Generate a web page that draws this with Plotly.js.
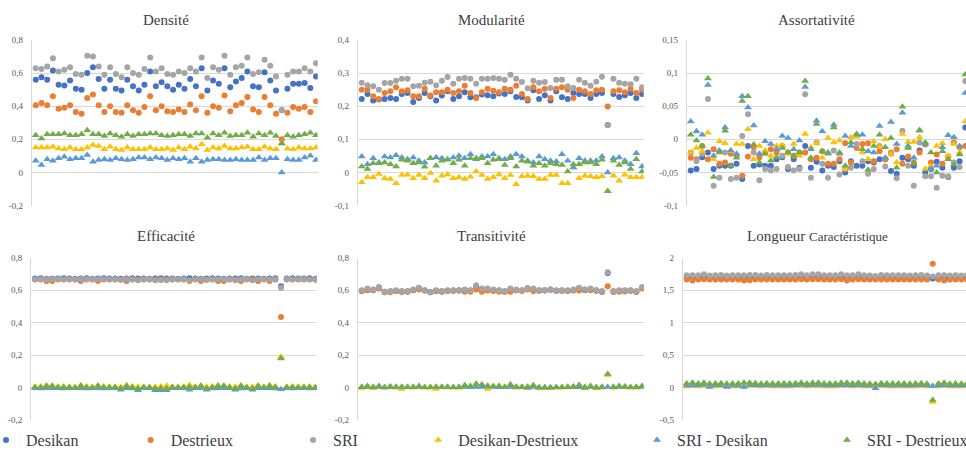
<!DOCTYPE html>
<html><head><meta charset="utf-8">
<script src="https://cdn.plot.ly/plotly-3.0.1.min.js"></script>
<style>html,body{margin:0;padding:0;background:#fff}#chart{width:966px;height:450px}</style>
</head><body><div id="chart"></div>
<script>
// subjects (categories)
const subjects = [1,2,3,4,5,6,7,8,9,10,11,12,13,14,15,16,17,18,19,20,21,22,23,24,25,26,27,28,29,30,31,32,33,34,35,36,37,38,39,40,41,42,43,44,45,46,47,48,49,50];

const seriesNames = ["Desikan","Destrieux","SRI","Desikan-Destrieux","SRI - Desikan","SRI - Destrieux"];
const seriesColors = ["#4472C4","#ED7D31","#A5A5A5","#FFC000","#5B9BD5","#70AD47"];
const seriesSymbols = ["circle","circle","circle","triangle-up","triangle-up","triangle-up"];

const panelTitles = ["Densité","Modularité","Assortativité","Efficacité","Transitivité","Longueur <span style='font-size:13px'>Caractéristique</span>"];

// tick labels
const ticksDensite = [0.8,0.6,0.4,0.2,0,-0.2];
const tickTextDensite = ["0,8","0,6","0,4","0,2","0","-0,2"];
const ticksModularite = [0.4,0.3,0.2,0.1,0,-0.1];
const tickTextModularite = ["0,4","0,3","0,2","0,1","0","-0,1"];
const ticksAssort = [0.15,0.1,0.05,0,-0.05,-0.1];
const tickTextAssort = ["0,15","0,1","0,05","0","-0,05","-0,1"];
const ticksLongueur = [2,1.5,1,0.5,0,-0.5];
const tickTextLongueur = ["2","1,5","1","0,5","0","-0,5"];

// Densité
const D_desikan = [0.56,0.575,0.56,0.615,0.53,0.525,0.555,0.505,0.50,0.60,0.635,0.565,0.505,0.56,0.505,0.495,0.56,0.52,0.495,0.53,0.61,0.52,0.545,0.52,0.50,0.53,0.505,0.565,0.52,0.63,0.495,0.555,0.535,0.63,0.515,0.55,0.57,0.61,0.52,0.515,0.605,0.555,0.495,0.375,0.505,0.535,0.535,0.54,0.51,0.58];
const D_destrieux = [0.405,0.42,0.405,0.46,0.385,0.39,0.405,0.365,0.355,0.45,0.47,0.405,0.365,0.40,0.365,0.36,0.405,0.375,0.36,0.395,0.46,0.375,0.40,0.37,0.365,0.38,0.365,0.41,0.375,0.46,0.36,0.40,0.39,0.465,0.37,0.405,0.42,0.455,0.38,0.365,0.455,0.405,0.355,0.20,0.36,0.395,0.385,0.395,0.365,0.43];
const D_sri = [0.63,0.625,0.64,0.69,0.61,0.62,0.635,0.595,0.59,0.705,0.70,0.64,0.59,0.635,0.595,0.575,0.635,0.60,0.59,0.625,0.695,0.61,0.63,0.595,0.59,0.61,0.60,0.63,0.61,0.695,0.57,0.635,0.62,0.705,0.59,0.635,0.645,0.695,0.595,0.605,0.68,0.645,0.58,0.375,0.59,0.61,0.61,0.63,0.61,0.66];
const D_desDes = [0.15,0.15,0.15,0.155,0.145,0.14,0.15,0.14,0.14,0.15,0.165,0.16,0.14,0.155,0.14,0.135,0.15,0.14,0.14,0.14,0.15,0.14,0.14,0.145,0.135,0.15,0.14,0.155,0.145,0.17,0.135,0.15,0.145,0.16,0.145,0.145,0.15,0.155,0.14,0.14,0.155,0.145,0.14,0.175,0.145,0.14,0.15,0.145,0.145,0.15];
const D_sriDes = [0.07,0.045,0.08,0.07,0.085,0.095,0.08,0.085,0.085,0.105,0.065,0.075,0.08,0.075,0.085,0.08,0.075,0.08,0.09,0.09,0.08,0.09,0.085,0.075,0.085,0.08,0.085,0.065,0.085,0.065,0.075,0.08,0.08,0.075,0.075,0.08,0.075,0.075,0.075,0.09,0.075,0.085,0.085,0.0,0.08,0.075,0.075,0.09,0.1,0.075];
const D_sriDst = [0.225,0.205,0.23,0.23,0.23,0.235,0.225,0.225,0.23,0.255,0.23,0.23,0.22,0.235,0.225,0.215,0.23,0.22,0.23,0.23,0.235,0.235,0.225,0.22,0.225,0.23,0.23,0.22,0.235,0.235,0.21,0.235,0.225,0.24,0.22,0.225,0.225,0.24,0.215,0.235,0.225,0.24,0.22,0.175,0.225,0.215,0.225,0.23,0.24,0.225];

// Modularité
const M_desikan = [0.222,0.237,0.217,0.22,0.222,0.225,0.222,0.237,0.24,0.213,0.225,0.24,0.23,0.217,0.232,0.245,0.222,0.23,0.242,0.227,0.227,0.235,0.233,0.23,0.238,0.237,0.245,0.228,0.227,0.217,0.248,0.222,0.233,0.217,0.245,0.227,0.222,0.24,0.237,0.237,0.225,0.237,0.24,0.143,0.237,0.228,0.233,0.24,0.225,0.237];
const M_destrieux = [0.25,0.25,0.23,0.222,0.24,0.245,0.257,0.245,0.248,0.23,0.23,0.253,0.232,0.242,0.242,0.25,0.24,0.245,0.262,0.24,0.225,0.242,0.253,0.247,0.242,0.253,0.25,0.262,0.237,0.222,0.257,0.245,0.253,0.225,0.253,0.257,0.25,0.225,0.25,0.245,0.237,0.248,0.25,0.199,0.245,0.248,0.242,0.253,0.24,0.25];
const M_sri = [0.271,0.263,0.26,0.25,0.27,0.27,0.277,0.283,0.283,0.26,0.262,0.271,0.274,0.263,0.277,0.288,0.268,0.283,0.285,0.283,0.268,0.283,0.283,0.285,0.283,0.28,0.295,0.283,0.273,0.254,0.277,0.271,0.273,0.255,0.28,0.28,0.26,0.255,0.28,0.271,0.262,0.274,0.289,0.143,0.283,0.271,0.268,0.266,0.283,0.257];
const M_desDes = [-0.03,-0.015,-0.015,-0.005,-0.018,-0.02,-0.033,-0.008,-0.007,-0.018,-0.008,-0.018,-0.002,-0.025,-0.01,-0.006,-0.018,-0.015,-0.02,-0.013,0.003,-0.008,-0.02,-0.015,-0.006,-0.018,-0.008,-0.036,-0.012,-0.01,-0.012,-0.02,-0.02,-0.008,-0.008,-0.033,-0.033,0.015,-0.018,-0.01,-0.012,-0.015,-0.012,-0.056,-0.01,-0.025,-0.007,-0.015,-0.015,-0.015];
const M_sriDes = [0.048,0.025,0.043,0.03,0.048,0.045,0.052,0.045,0.04,0.045,0.035,0.03,0.043,0.045,0.043,0.04,0.045,0.05,0.043,0.055,0.04,0.048,0.048,0.055,0.043,0.04,0.048,0.055,0.048,0.035,0.03,0.048,0.04,0.035,0.033,0.055,0.035,0.015,0.043,0.035,0.035,0.035,0.048,0.0,0.043,0.045,0.035,0.025,0.058,0.018];
const M_sriDst = [0.018,0.01,0.028,0.028,0.03,0.025,0.018,0.038,0.035,0.028,0.03,0.017,0.043,0.02,0.035,0.038,0.028,0.038,0.02,0.043,0.043,0.043,0.028,0.038,0.04,0.022,0.043,0.018,0.035,0.032,0.02,0.028,0.02,0.028,0.025,0.022,0.003,0.025,0.025,0.03,0.03,0.025,0.038,-0.057,0.035,0.022,0.03,0.01,0.04,0.003];

// Assortativité
const A_desikan = [-0.047,-0.045,-0.027,-0.02,-0.045,-0.04,-0.04,-0.04,-0.037,-0.06,-0.01,-0.04,-0.038,-0.04,-0.04,-0.03,-0.027,-0.045,-0.03,-0.043,-0.01,-0.043,-0.034,-0.047,-0.04,-0.042,-0.033,-0.05,-0.033,-0.04,-0.04,-0.033,-0.035,-0.03,-0.03,-0.048,-0.052,-0.028,-0.03,-0.04,-0.017,-0.05,-0.045,-0.034,-0.043,-0.057,-0.043,-0.033,0.018,-0.03];
const A_destrieux = [-0.028,-0.03,-0.01,-0.03,-0.015,-0.037,-0.035,-0.022,-0.025,-0.055,-0.026,-0.012,-0.027,-0.02,-0.015,-0.02,-0.01,-0.02,-0.025,-0.02,-0.02,-0.03,-0.028,-0.018,-0.037,-0.037,-0.03,-0.006,-0.035,-0.013,-0.007,-0.006,-0.033,-0.018,-0.03,-0.02,-0.015,-0.037,-0.026,-0.035,-0.02,-0.008,-0.035,-0.023,-0.037,-0.026,-0.005,-0.012,-0.01,-0.02];
const A_sri = [-0.02,-0.033,-0.022,0.061,-0.07,-0.058,-0.02,-0.06,-0.058,0.005,0.038,-0.02,-0.062,-0.045,-0.047,-0.045,-0.025,-0.042,-0.047,-0.045,0.068,-0.058,-0.005,-0.037,-0.058,-0.017,-0.053,-0.045,-0.043,-0.007,-0.033,-0.052,-0.045,-0.01,-0.041,-0.022,-0.059,0.013,-0.04,-0.07,-0.005,-0.056,-0.056,-0.073,-0.055,-0.056,-0.035,-0.042,0.088,-0.03];
const A_desDes = [-0.02,-0.013,-0.018,0.01,-0.03,-0.003,-0.006,-0.018,-0.007,-0.007,0.015,-0.03,-0.01,-0.017,-0.025,-0.01,-0.009,-0.022,-0.007,-0.025,0.008,-0.012,-0.006,-0.028,0.002,-0.005,-0.002,-0.045,0.003,0.004,-0.02,-0.03,-0.003,-0.012,0.0,-0.023,-0.035,0.008,-0.004,-0.004,0.003,-0.045,-0.04,-0.01,-0.006,-0.025,-0.007,-0.02,0.027,-0.01];
const A_sriDes = [0.027,0.012,0.007,0.082,-0.025,-0.017,0.018,-0.017,-0.022,0.065,0.048,0.021,-0.022,-0.003,-0.007,-0.015,0.005,0.002,-0.015,-0.002,0.079,-0.015,0.028,0.012,-0.022,0.022,-0.022,0.005,-0.01,0.008,0.007,-0.018,-0.02,0.02,-0.028,0.026,-0.007,0.04,-0.01,-0.028,0.013,-0.007,-0.045,-0.04,-0.012,0.006,0.003,-0.01,0.07,0.0];
const A_sriDst = [0.007,-0.002,-0.01,0.092,-0.057,-0.02,0.013,-0.04,-0.028,0.058,0.065,-0.008,-0.035,-0.022,-0.032,-0.027,-0.013,-0.02,-0.025,-0.02,0.088,-0.028,0.023,-0.018,-0.02,0.018,-0.02,-0.04,-0.005,0.007,-0.015,-0.046,-0.01,0.007,-0.012,0.002,-0.043,0.049,-0.013,-0.037,0.014,-0.005,-0.02,-0.05,-0.018,-0.03,-0.038,-0.023,0.098,-0.01];

// Efficacité
const E_desikan = [0.672,0.673,0.671,0.670,0.672,0.673,0.672,0.671,0.672,0.673,0.671,0.672,0.673,0.672,0.672,0.671,0.672,0.673,0.672,0.672,0.671,0.672,0.673,0.672,0.672,0.671,0.672,0.673,0.672,0.671,0.672,0.673,0.672,0.671,0.672,0.672,0.673,0.671,0.672,0.672,0.671,0.672,0.673,0.625,0.672,0.673,0.672,0.672,0.673,0.671];
const E_destrieux = [0.666,0.666,0.657,0.657,0.666,0.666,0.666,0.666,0.657,0.666,0.666,0.657,0.666,0.666,0.666,0.666,0.657,0.666,0.666,0.666,0.666,0.666,0.666,0.666,0.666,0.666,0.666,0.657,0.666,0.657,0.666,0.666,0.657,0.657,0.666,0.666,0.657,0.666,0.666,0.657,0.666,0.657,0.666,0.435,0.666,0.666,0.666,0.666,0.666,0.666];
const E_sri = [0.668,0.668,0.667,0.667,0.668,0.668,0.668,0.667,0.668,0.668,0.667,0.668,0.668,0.668,0.668,0.662,0.668,0.668,0.661,0.668,0.668,0.661,0.662,0.661,0.668,0.668,0.668,0.661,0.668,0.668,0.662,0.668,0.668,0.667,0.668,0.661,0.668,0.668,0.661,0.668,0.668,0.668,0.668,0.615,0.668,0.668,0.668,0.668,0.668,0.667];
const E_desDes = [0.006,0.007,0.014,0.013,0.006,0.007,0.006,0.005,0.015,0.007,0.005,0.014,0.007,0.006,0.006,0.005,0.015,0.007,0.006,0.006,0.005,0.006,0.007,0.012,0.006,0.005,0.006,0.016,0.006,0.014,0.006,0.007,0.015,0.014,0.006,0.006,0.015,0.005,0.006,0.014,0.005,0.015,0.007,0.19,0.006,0.007,0.006,0.006,0.007,0.005];
const E_sriDes = [-0.004,-0.005,-0.004,-0.003,-0.004,-0.005,-0.004,-0.004,-0.004,-0.005,-0.004,-0.004,-0.005,-0.004,-0.004,-0.012,-0.004,-0.005,-0.015,-0.004,-0.003,-0.015,-0.015,-0.015,-0.004,-0.003,-0.004,-0.013,-0.004,-0.003,-0.013,-0.005,-0.004,-0.004,-0.004,-0.013,-0.005,-0.003,-0.013,-0.004,-0.003,-0.004,-0.005,-0.01,-0.004,-0.005,-0.004,-0.004,-0.005,-0.004];
const E_sriDst = [0.002,0.002,0.01,0.01,0.002,0.002,0.002,0.001,0.011,0.002,0.001,0.011,0.002,0.002,0.002,-0.004,0.011,0.002,-0.005,0.002,0.002,-0.005,-0.004,-0.005,0.002,0.002,0.002,0.004,0.002,0.011,-0.004,0.002,0.011,0.01,0.002,-0.005,0.011,0.002,-0.005,0.011,0.002,0.011,0.002,0.18,0.002,0.002,0.002,0.002,0.002,0.001];

// Transitivité
const T_desikan = [0.595,0.605,0.6,0.615,0.59,0.592,0.595,0.59,0.592,0.6,0.61,0.598,0.588,0.595,0.592,0.596,0.597,0.598,0.6,0.598,0.625,0.605,0.603,0.6,0.598,0.592,0.605,0.6,0.598,0.612,0.605,0.597,0.598,0.603,0.597,0.597,0.596,0.6,0.612,0.6,0.605,0.597,0.59,0.706,0.59,0.596,0.596,0.597,0.59,0.615];
const T_destrieux = [0.597,0.6,0.603,0.61,0.588,0.588,0.595,0.59,0.59,0.6,0.605,0.598,0.588,0.595,0.59,0.595,0.598,0.598,0.59,0.59,0.605,0.59,0.598,0.595,0.59,0.59,0.59,0.6,0.595,0.605,0.595,0.6,0.6,0.605,0.597,0.598,0.595,0.598,0.598,0.605,0.6,0.6,0.59,0.625,0.59,0.59,0.592,0.598,0.59,0.61];
const T_sri = [0.6,0.61,0.605,0.62,0.59,0.595,0.6,0.595,0.595,0.605,0.615,0.6,0.59,0.6,0.595,0.6,0.6,0.6,0.605,0.6,0.63,0.61,0.61,0.605,0.6,0.595,0.61,0.605,0.6,0.61,0.61,0.6,0.6,0.605,0.6,0.6,0.6,0.605,0.615,0.605,0.61,0.6,0.595,0.71,0.595,0.6,0.6,0.6,0.595,0.62];
const T_desDes = [-0.002,0.005,-0.003,0.005,0.002,0.004,0.0,-0.008,0.002,0.0,0.005,0.0,0.0,-0.008,0.002,0.001,-0.001,0.0,0.01,0.008,0.02,0.015,-0.008,0.005,0.008,0.002,0.015,0.0,0.003,0.007,0.01,-0.003,-0.002,-0.002,0.0,-0.001,0.001,0.002,0.014,-0.005,0.005,-0.003,0.0,0.078,0.0,0.006,0.004,-0.001,0.0,0.005];
const T_sriDes = [0.005,0.005,0.005,0.005,0.0,0.003,0.005,0.005,0.003,0.005,0.005,0.002,0.002,0.005,0.003,0.004,0.003,0.002,0.005,0.002,0.005,0.005,0.007,0.005,0.002,0.003,0.005,0.005,0.002,-0.002,0.005,0.003,0.002,0.002,0.003,0.003,0.004,0.005,0.003,0.005,0.005,0.003,0.005,0.004,0.005,0.004,0.004,0.003,0.005,0.005];
const T_sriDst = [0.003,0.01,0.002,0.01,0.002,0.007,0.005,0.005,0.005,0.005,0.01,0.002,0.002,0.005,0.005,0.005,0.002,0.002,0.015,0.01,0.025,0.02,0.012,0.01,0.01,0.005,0.02,0.005,0.005,0.005,0.015,0.0,0.0,0.0,0.003,0.002,0.005,0.007,0.017,0.0,0.01,0.0,0.005,0.085,0.005,0.01,0.008,0.002,0.005,0.01];

// Longueur Caractéristique
const L_desikan = [1.695,1.697,1.693,1.7,1.69,1.693,1.697,1.69,1.695,1.695,1.69,1.695,1.697,1.69,1.697,1.695,1.693,1.695,1.695,1.697,1.7,1.693,1.703,1.703,1.693,1.695,1.693,1.703,1.693,1.695,1.703,1.695,1.69,1.69,1.697,1.693,1.695,1.693,1.695,1.69,1.693,1.697,1.69,1.68,1.695,1.693,1.69,1.695,1.69,1.697];
const L_destrieux = [1.665,1.65,1.665,1.67,1.665,1.665,1.665,1.665,1.665,1.665,1.648,1.652,1.665,1.665,1.665,1.665,1.665,1.665,1.665,1.665,1.67,1.665,1.67,1.67,1.665,1.665,1.665,1.67,1.65,1.665,1.67,1.665,1.665,1.665,1.665,1.665,1.665,1.665,1.665,1.665,1.665,1.665,1.665,1.905,1.665,1.648,1.665,1.665,1.665,1.665];
const L_sri = [1.73,1.73,1.73,1.745,1.725,1.73,1.735,1.725,1.73,1.73,1.73,1.735,1.735,1.725,1.735,1.73,1.73,1.73,1.73,1.735,1.745,1.73,1.745,1.745,1.73,1.73,1.73,1.745,1.73,1.73,1.745,1.73,1.725,1.72,1.735,1.73,1.73,1.73,1.73,1.725,1.73,1.735,1.725,1.71,1.73,1.73,1.725,1.73,1.725,1.735];
const L_desDes = [0.02,0.03,0.02,0.025,0.02,0.02,0.025,0.02,0.02,0.02,0.03,0.03,0.025,0.02,0.025,0.02,0.02,0.02,0.02,0.025,0.025,0.02,0.025,0.025,0.02,0.02,0.02,0.025,0.03,0.02,0.025,0.02,0.02,0.02,0.025,0.02,0.02,0.02,0.02,0.02,0.02,0.025,0.02,-0.22,0.02,0.03,0.02,0.02,0.02,0.025];
const L_sriDes = [0.035,0.033,0.037,0.045,0.01,0.037,0.038,0.01,0.035,0.035,0.01,0.04,0.038,0.035,0.038,0.035,0.037,0.035,0.035,0.038,0.045,0.037,0.042,0.042,0.037,0.035,0.037,0.042,0.037,0.035,0.042,0.035,0.035,-0.01,0.038,0.037,0.035,0.037,0.035,0.035,0.037,0.038,0.035,0.025,0.035,0.037,0.035,0.035,0.035,0.038];
const L_sriDst = [0.065,0.075,0.065,0.075,0.06,0.065,0.07,0.06,0.065,0.065,0.075,0.075,0.07,0.06,0.07,0.065,0.065,0.065,0.065,0.07,0.075,0.065,0.075,0.075,0.065,0.065,0.065,0.075,0.075,0.065,0.075,0.065,0.06,0.055,0.07,0.065,0.065,0.065,0.065,0.06,0.065,0.07,0.06,-0.19,0.065,0.075,0.06,0.065,0.06,0.07];

const W = 966, H = 450;
const px = v => v / W;
const py = v => 1 - v / H;

const panels = [
  {xa:'x',  ya:'y',  data:[D_desikan,D_destrieux,D_sri,D_desDes,D_sriDes,D_sriDst], xd:[31.7,317.7], yd:[40,205.5], range:[-0.2,0.8], tv:ticksDensite, tt:tickTextDensite, xr:[0.29,50.29], tx:166, ty:19.5},
  {xa:'x2', ya:'y2', data:[M_desikan,M_destrieux,M_sri,M_desDes,M_sriDes,M_sriDst], xd:[357.7,643.7], yd:[40,205.5], range:[-0.1,0.4], tv:ticksModularite, tt:tickTextModularite, xr:[0.29,50.29], tx:491, ty:19.5},
  {xa:'x3', ya:'y3', data:[A_desikan,A_destrieux,A_sri,A_desDes,A_sriDes,A_sriDst], xd:[686.7,966], yd:[40,205.5], range:[-0.1,0.15], tv:ticksAssort, tt:tickTextAssort, xr:[0.29,0.29+279.3/5.72], tx:816, ty:19.5},
  {xa:'x4', ya:'y4', data:[E_desikan,E_destrieux,E_sri,E_desDes,E_sriDes,E_sriDst], xd:[31,317], yd:[257.7,420.2], range:[-0.2,0.8], tv:ticksDensite, tt:tickTextDensite, xr:[0.29,50.29], tx:166, ty:235.5},
  {xa:'x5', ya:'y5', data:[T_desikan,T_destrieux,T_sri,T_desDes,T_sriDes,T_sriDst], xd:[357.7,643.7], yd:[257.7,420.2], range:[-0.2,0.8], tv:ticksDensite, tt:tickTextDensite, xr:[0.29,50.29], tx:491, ty:235.5},
  {xa:'x6', ya:'y6', data:[L_desikan,L_destrieux,L_sri,L_desDes,L_sriDes,L_sriDst], xd:[682.7,966], yd:[257.7,420.2], range:[-0.5,2], tv:ticksLongueur, tt:tickTextLongueur, xr:[0.29,0.29+283.3/5.72], tx:817, ty:235.5}
];

const legendIds = ['legend','legend2','legend3','legend4','legend5','legend6'];
const legendTextX = [26,170.7,333,458.3,677,867];

const traces = [];
panels.forEach((p, pi) => {
  p.data.forEach((vals, si) => {
    traces.push({
      type:'scatter', mode:'markers', x:subjects, y:vals,
      xaxis:p.xa, yaxis:p.ya, name:seriesNames[si],
      legend: legendIds[si], showlegend: pi === 0,
      marker:{color:seriesColors[si], symbol:seriesSymbols[si], size: si < 3 ? 6 : 7, line:{width:0}},
      hoverinfo:'skip'
    });
  });
});

const layout = {
  width:W, height:H,
  margin:{l:0,r:0,t:0,b:0,autoexpand:false},
  paper_bgcolor:'#fff', plot_bgcolor:'#fff',
  font:{family:'Liberation Serif', color:'#404040'},
  annotations:[]
};
const serif = 'Liberation Serif';
panels.forEach((p, pi) => {
  const n = pi === 0 ? '' : String(pi + 1);
  layout['xaxis' + n] = {
    domain:[px(p.xd[0]), px(p.xd[1])], range:p.xr, visible:false, fixedrange:true,
    anchor: 'y' + n
  };
  layout['yaxis' + n] = {
    domain:[py(p.yd[1]), py(p.yd[0])], range:p.range, anchor:'x' + n,
    tickmode:'array', tickvals:p.tv, ticktext:p.tt,
    showgrid:true, gridcolor:'#D9D9D9', gridwidth:1, zeroline:false,
    showline:true, linecolor:'#D9D9D9', linewidth:1,
    ticks:'', ticklabelstandoff:6,
    tickfont:{family:serif, size:9, color:'#595959'}, fixedrange:true
  };
  layout.annotations.push({
    text: panelTitles[pi], xref:'paper', yref:'paper', x:px(p.tx), y:py(p.ty),
    xanchor:'center', yanchor:'middle', showarrow:false,
    font:{family:serif, size:15, color:'#404040'}
  });
});
legendIds.forEach((id, i) => {
  layout[id] = {
    x: px(legendTextX[i] - 40), xanchor:'left', y: py(440), yanchor:'middle',
    orientation:'h', bgcolor:'rgba(0,0,0,0)', borderwidth:0,
    font:{family:serif, size:16, color:'#404040'},
    itemclick:false, itemdoubleclick:false
  };
});

Plotly.newPlot('chart', traces, layout, {staticPlot:true, displayModeBar:false});
</script>
</body></html>
